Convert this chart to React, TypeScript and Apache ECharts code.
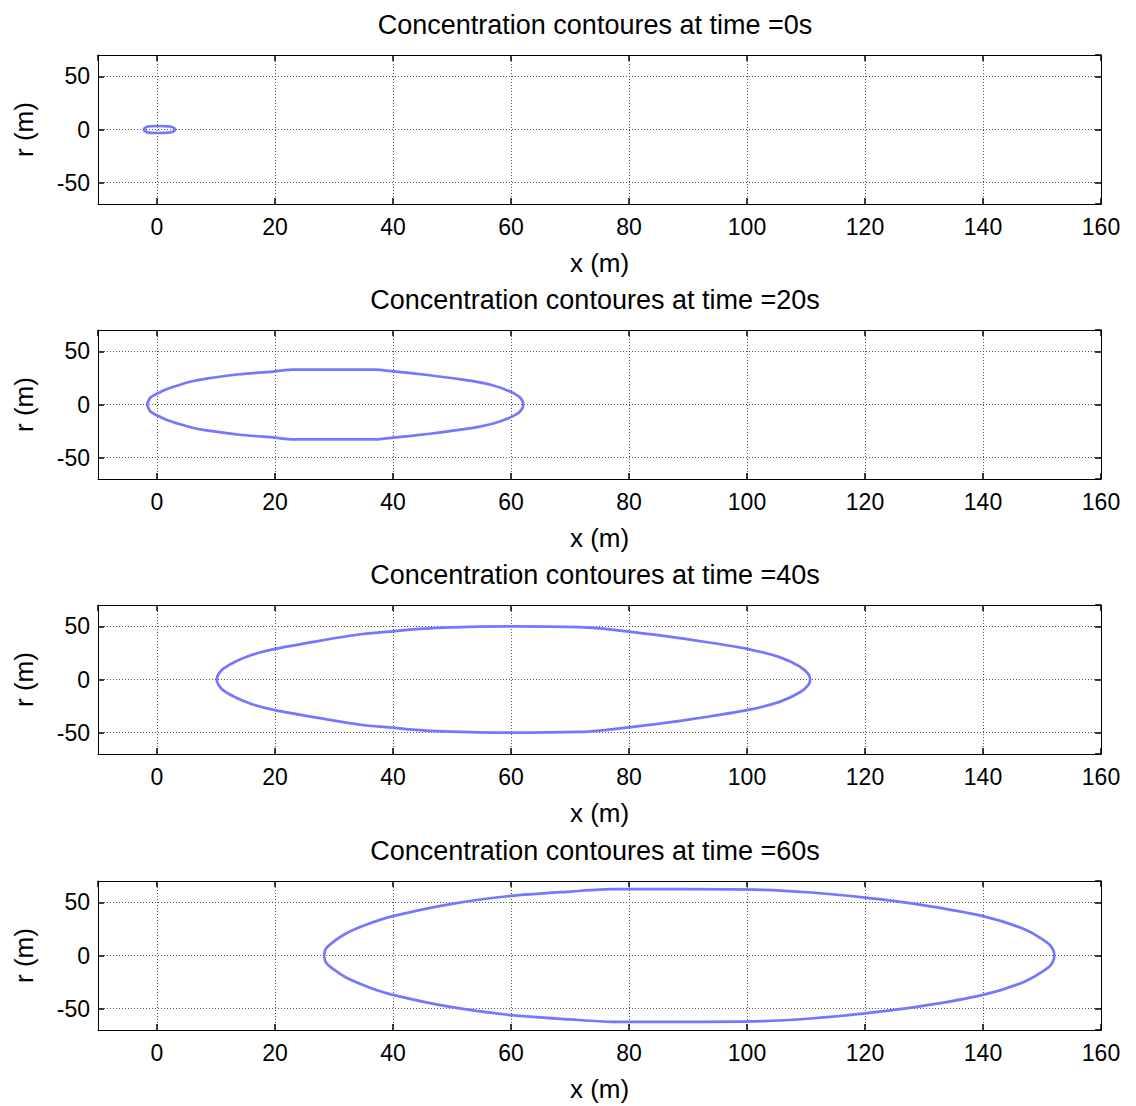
import React, { useEffect, useRef } from 'react';
import * as echarts from 'echarts';

// Contour times (s)
const times = ['0', '20', '40', '60'];

// Upper half of each contour (x in m, r in m); the lower half mirrors it.
const t0X = [-2.3, -1.9, -1.4, 0.3, 2.0, 2.7, 3.1];
const t0R = [0, 2.0, 3.0, 3.3, 3.0, 2.0, 0];

const t20X = [-1.7, -1.2, -0.5, 0.5, 1.8, 3.9, 6, 8.4, 14, 20, 23, 30, 36.9, 40, 46.2, 51.8, 54.5, 57, 59, 60.8, 61.7, 62.1];
const t20R = [0, 6, 8.8, 11.5, 14.8, 18.6, 21.8, 24.3, 28.4, 31.2, 32.8, 32.8, 32.8, 31.2, 27.5, 23.4, 21, 17.8, 14.2, 9.5, 5.5, 0];

const t40X = [10.1, 10.4, 11.2, 13, 16, 20, 27.3, 34.5, 40, 42.7, 48.5, 60, 71.8, 75, 80, 85.2, 93.3, 100, 105.5, 109, 110.4, 110.7];
const t40R = [0, 5, 10, 16, 23, 28.8, 36.1, 42.5, 45.3, 46.8, 48.8, 50, 49.3, 48, 45, 41.5, 35, 28.8, 21, 12, 5, 0];

const t60X = [28.3, 28.6, 29.6, 32.2, 36, 40, 49.5, 60, 70.2, 77.1, 90, 102.6, 110.8, 120, 129, 140, 147.1, 151, 151.8, 152.1];
const t60R = [0, 6.2, 11.7, 21.2, 30, 37, 48.1, 56, 60.1, 62.3, 62.3, 61.7, 59.2, 54.4, 48.1, 37, 24.4, 11.7, 6.2, 0];

const contourX = [t0X, t20X, t40X, t60X];
const contourR = [t0R, t20R, t40R, t60R];

// Axis ranges and tick steps
const xMin = -10;
const xMax = 160;
const xStep = 20;
const rMin = -70;
const rMax = 70;
const rStep = 50;

const FONT = '"Liberation Sans", Arial, Helvetica, sans-serif';

function loop(xs: number[], rs: number[]): number[][] {
  const upper = xs.map((x, i) => [x, rs[i]]);
  const lower = xs.map((x, i) => [x, -rs[i]]).reverse();
  return upper.concat(lower);
}

export default function App() {
  const ref = useRef<HTMLDivElement>(null);

  useEffect(() => {
    if (!ref.current) return;
    const chart = echarts.init(ref.current, undefined, { renderer: 'svg' });

    const tops = [55, 330, 605, 881];
    const plotH = 149;
    const left = 98;
    const plotW = 1003;

    const grids = tops.map((t) => ({ left, top: t, width: plotW, height: plotH, containLabel: false }));

    const line = { show: true, onZero: false, lineStyle: { color: '#000', width: 1 } };
    const tick = { show: true, inside: true, length: 6, lineStyle: { color: '#000', width: 1.5 } };
    const split = { show: true, lineStyle: { color: '#555', width: 1, type: [1, 2] as any } };

    const xAxes: any[] = [];
    const yAxes: any[] = [];
    tops.forEach((_, i) => {
      xAxes.push({
        gridIndex: i,
        type: 'value',
        position: 'bottom',
        min: xMin,
        max: xMax,
        minInterval: xStep,
        maxInterval: xStep,
        axisLine: line,
        axisTick: tick,
        splitLine: split,
        axisLabel: {
          color: '#000',
          fontSize: 23,
          fontFamily: FONT,
          margin: 11,
          showMinLabel: false,
          formatter: (v: number) => (v % xStep === 0 ? String(v) : ''),
        },
        name: 'x (m)',
        nameLocation: 'middle',
        nameGap: 46,
        nameTextStyle: { color: '#000', fontSize: 26, fontFamily: FONT },
      });
      xAxes.push({
        gridIndex: i,
        type: 'value',
        position: 'top',
        min: xMin,
        max: xMax,
        minInterval: xStep,
        maxInterval: xStep,
        axisLine: line,
        axisTick: tick,
        splitLine: { show: false },
        axisLabel: { show: false },
      });
      yAxes.push({
        gridIndex: i,
        type: 'value',
        position: 'left',
        min: rMin,
        max: rMax,
        minInterval: rStep,
        maxInterval: rStep,
        axisLine: line,
        axisTick: tick,
        splitLine: split,
        axisLabel: {
          color: '#000',
          fontSize: 23,
          fontFamily: FONT,
          margin: 8,
          showMinLabel: false,
          showMaxLabel: false,
          formatter: (v: number) => (v % rStep === 0 ? String(v) : ''),
        },
        name: 'r (m)',
        nameLocation: 'middle',
        nameGap: 61,
        nameTextStyle: { color: '#000', fontSize: 26, fontFamily: FONT },
      });
      yAxes.push({
        gridIndex: i,
        type: 'value',
        position: 'right',
        min: rMin,
        max: rMax,
        minInterval: rStep,
        maxInterval: rStep,
        axisLine: line,
        axisTick: tick,
        splitLine: { show: false },
        axisLabel: { show: false },
      });
    });

    const series = times.map((_, i) => ({
      type: 'line',
      xAxisIndex: i * 2,
      yAxisIndex: i * 2,
      data: loop(contourX[i], contourR[i]),
      showSymbol: false,
      symbol: 'none',
      smooth: 0.25,
      lineStyle: { color: '#7676ff', width: 2.7 },
      silent: true,
    }));

    const titles = times.map((t, i) => ({
      type: 'text',
      x: 595,
      y: tops[i] - 30,
      style: {
        text: `Concentration contoures at time =${t}s`,
        font: `27px ${FONT}`,
        fill: '#000',
        textAlign: 'center',
        textVerticalAlign: 'middle',
      },
    }));

    chart.setOption({
      animation: false,
      backgroundColor: '#fff',
      grid: grids,
      xAxis: xAxes,
      yAxis: yAxes,
      series,
      graphic: titles,
    });

    return () => chart.dispose();
  }, []);

  return (
    <div
      ref={ref}
      style={{ position: 'fixed', left: 0, top: 0, width: 1136, height: 1106, background: '#fff' }}
    />
  );
}
